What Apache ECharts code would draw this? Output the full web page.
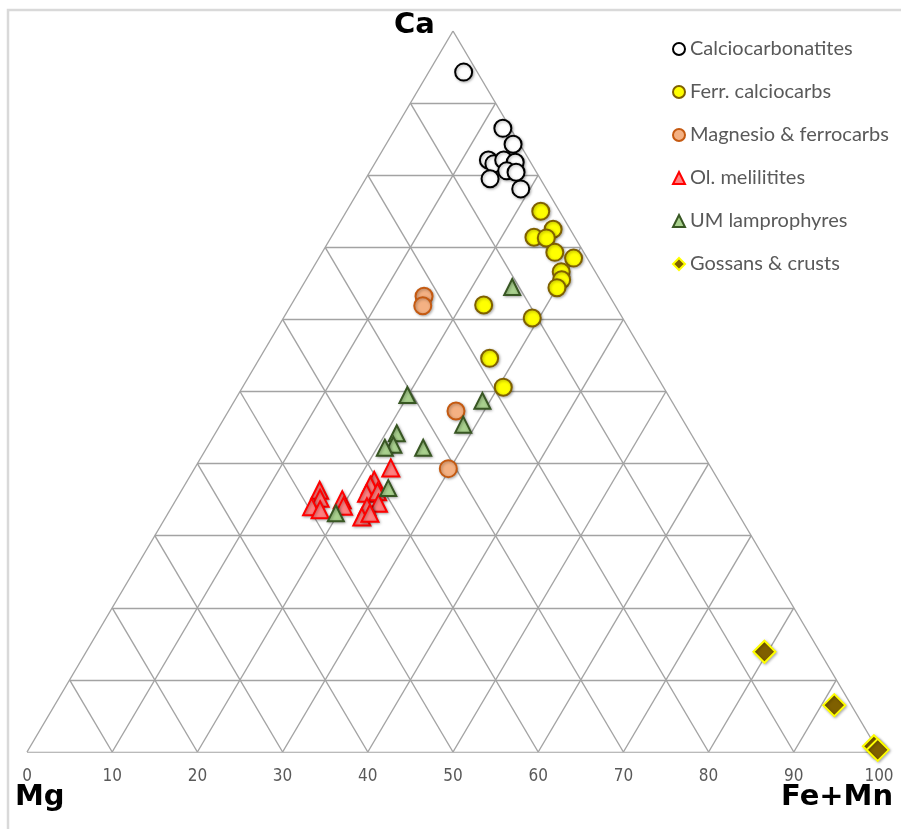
<!DOCTYPE html>
<html>
<head>
<meta charset="utf-8">
<script src="https://cdn.jsdelivr.net/npm/echarts@6/dist/echarts.min.js"></script>
<style>
  html, body { margin: 0; padding: 0; background: #fff; }
  #main { width: 901px; height: 829px; }
</style>
</head>
<body>
<div id="main"></div>
<script>
// compositions as [Mg, Fe+Mn, Ca] in percent
const calciocarbonatites = [
    [1.6, 4.1, 94.3], [0.9, 12.6, 86.5], [0.8, 14.9, 84.3], [4.8, 13.1, 82.1],
    [4.4, 14.0, 81.6], [3.0, 14.9, 82.1], [1.8, 16.4, 81.8], [3.4, 16.0, 80.6],
    [2.4, 17.2, 80.4], [5.9, 14.6, 79.5], [3.0, 18.9, 78.1]
];
const ferrCalciocarbs = [
    [2.2, 22.8, 75.0], [2.0, 25.5, 72.5], [4.8, 23.8, 71.4], [3.4, 25.3, 71.3],
    [3.4, 27.3, 69.3], [1.6, 29.9, 68.5], [4.0, 29.4, 66.6], [4.5, 30.0, 65.5],
    [5.6, 30.0, 64.4], [15.4, 22.6, 62.0], [10.6, 29.2, 60.2], [18.4, 27.0, 54.6],
    [18.8, 30.6, 50.6]
];
const magnesioFerrocarbs = [
    [21.8, 15.0, 63.2], [22.6, 15.5, 61.9], [26.0, 26.7, 47.3], [30.9, 29.8, 39.3]
];
const olMelilitites = [
    [37.6, 23.0, 39.4], [47.5, 16.2, 36.3], [48.0, 16.8, 35.2], [49.6, 16.4, 34.0],
    [48.8, 17.6, 33.6], [45.5, 19.5, 35.0], [45.8, 20.1, 34.1], [40.4, 21.9, 37.7],
    [41.2, 21.8, 37.0], [42.2, 21.9, 35.9], [40.8, 23.1, 36.1], [41.5, 24.0, 34.5],
    [43.1, 22.9, 34.0], [44.4, 23.0, 32.6], [43.2, 23.7, 33.1]
];
const umLamprophyres = [
    [10.8, 24.7, 64.5], [30.6, 19.9, 49.5], [22.2, 29.1, 48.7], [26.1, 28.5, 45.4],
    [34.5, 21.3, 44.2], [35.7, 21.7, 42.6], [36.9, 20.9, 42.2], [32.4, 25.4, 42.2],
    [39.3, 24.1, 36.6], [47.2, 19.7, 33.1]
];
const gossansCrusts = [
    [6.5, 79.6, 13.9], [2.0, 91.5, 6.5], [0.2, 99.0, 0.8], [0.0, 99.7, 0.3]
];

const seriesNames = ['Calciocarbonatites', 'Ferr. calciocarbs', 'Magnesio & ferrocarbs',
    'Ol. melilitites', 'UM lamprophyres', 'Gossans & crusts'];
const bottomTicks = [0, 10, 20, 30, 40, 50, 60, 70, 80, 90, 100];

// ternary -> cartesian (x along the base, y = Ca)
const toXY = (p) => [p[1] + p[2] / 2, p[2]];

// triangular grid
const gridLines = [];
bottomTicks.forEach(v => {
    if (v === 100) return;
    // constant Ca
    gridLines.push({ coords: [[v / 2, v], [100 - v / 2, v]] });
    // constant Fe+Mn
    gridLines.push({ coords: [[v, 0], [v + (100 - v) / 2, 100 - v]] });
    // constant Mg
    gridLines.push({ coords: [[100 - v, 0], [(100 - v) / 2, 100 - v]] });
});

const shadow = {
    shadowBlur: 3,
    shadowOffsetX: 1,
    shadowOffsetY: 1,
    shadowColor: 'rgba(0,0,0,0.3)'
};

const makeSeries = (name, data, symbol, size, fill, border) => ({
    name: name,
    type: 'scatter',
    symbol: symbol,
    symbolSize: size,
    z: 3,
    data: data.map(toXY),
    itemStyle: Object.assign({ color: fill, borderColor: border, borderWidth: 2, opacity: 1 }, shadow)
});

var myChart = echarts.init(document.getElementById('main'));

const option = {
    animation: false,
    grid: { left: 27, top: 31, width: 852, height: 721 },
    xAxis: {
        type: 'value',
        min: 0,
        max: 100,
        interval: 10,
        axisLine: { show: false },
        axisTick: { show: false },
        splitLine: { show: false },
        axisLabel: {
            margin: 16,
            color: '#595959',
            fontSize: 17,
            fontFamily: '"DejaVu Sans Condensed", "Liberation Sans Narrow", sans-serif'
        }
    },
    yAxis: {
        type: 'value',
        min: 0,
        max: 100,
        show: false
    },
    legend: {
        orient: 'vertical',
        left: 667,
        top: 34,
        itemWidth: 12,
        itemHeight: 12,
        itemGap: 23,
        data: seriesNames,
        textStyle: {
            color: '#595959',
            fontSize: 20,
            lineHeight: 20,
            fontFamily: 'Lato, sans-serif'
        }
    },
    graphic: [
        {
            type: 'rect',
            shape: { x: 8, y: 10, width: 900, height: 830 },
            style: { fill: 'none', stroke: '#d9d9d9', lineWidth: 2.5 },
            silent: true
        },
        {
            type: 'text',
            left: 394, top: 11,
            style: { text: 'Ca', font: 'bold 29px "DejaVu Sans"', fill: '#000' }
        },
        {
            type: 'text',
            left: 15, top: 783,
            style: { text: 'Mg', font: 'bold 29px "DejaVu Sans"', fill: '#000' }
        },
        {
            type: 'text',
            left: 781, top: 783,
            style: { text: 'Fe+Mn', font: 'bold 29px "DejaVu Sans"', fill: '#000' }
        }
    ],
    series: [
        {
            type: 'lines',
            coordinateSystem: 'cartesian2d',
            silent: true,
            z: 1,
            lineStyle: { color: '#a3a3a3', width: 1.4, opacity: 1 },
            data: gridLines
        },
        makeSeries(seriesNames[0], calciocarbonatites, 'circle', 17, '#ffffff', '#000000'),
        makeSeries(seriesNames[1], ferrCalciocarbs, 'circle', 17, '#ffff00', '#7f6000'),
        makeSeries(seriesNames[2], magnesioFerrocarbs, 'circle', 17, '#f4b183', '#c55a11'),
        makeSeries(seriesNames[3], olMelilitites, 'triangle', 17, '#ff8080', '#ff0000'),
        makeSeries(seriesNames[4], umLamprophyres, 'triangle', 16, '#a9d18e', '#385723'),
        makeSeries(seriesNames[5], gossansCrusts, 'diamond', 22, '#7f6000', '#ffff00')
    ]
};

myChart.setOption(option);
</script>
</body>
</html>
